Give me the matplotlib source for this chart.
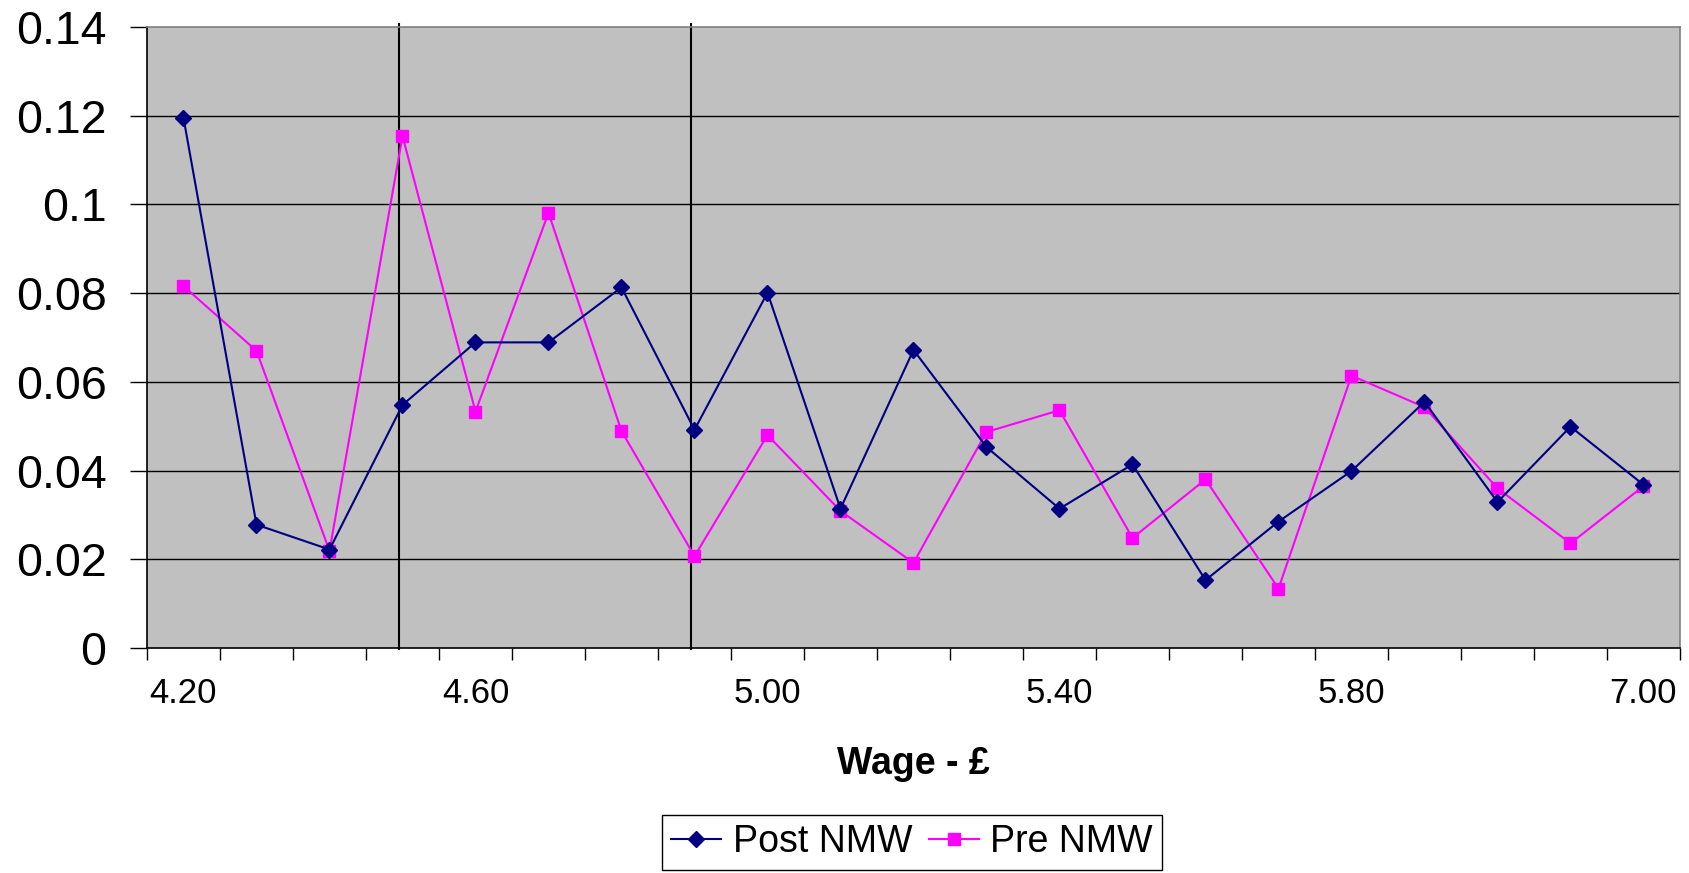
import matplotlib
matplotlib.use("Agg")
import matplotlib.pyplot as plt
import numpy as np

plt.rcParams['font.family'] = ['Liberation Sans', 'DejaVu Sans']

categories = ["4.20", "4.30", "4.40", "4.50", "4.60", "4.70", "4.80", "4.90", "5.00", "5.10",
              "5.20", "5.30", "5.40", "5.50", "5.60", "5.70", "5.80", "5.90", "6.00", "6.50", "7.00"]
post_nmw = [0.1195, 0.0278, 0.0222, 0.0548, 0.0689, 0.0689, 0.0813, 0.0492, 0.0801, 0.0314,
            0.0672, 0.0453, 0.0314, 0.0414, 0.0153, 0.0285, 0.0399, 0.0555, 0.0329, 0.0499, 0.0368]
pre_nmw = [0.0816, 0.0670, 0.0219, 0.1154, 0.0533, 0.0981, 0.0489, 0.0207, 0.0480, 0.0309,
           0.0192, 0.0487, 0.0536, 0.0248, 0.0380, 0.0134, 0.0614, 0.0543, 0.0360, 0.0236, 0.0365]
label_every = 4
vline_positions = [2.95, 6.95]
yticks = [0, 0.02, 0.04, 0.06, 0.08, 0.1, 0.12, 0.14]
ytick_labels = ["0", "0.02", "0.04", "0.06", "0.08", "0.1", "0.12", "0.14"]

fig = plt.figure(figsize=(16.9, 8.73), dpi=100)
ax = fig.add_axes([147/1690, 1-648/873, (1680-147)/1690, (648-27)/873])
ax.set_facecolor('#C0C0C0')

x = np.arange(len(categories))
ax.set_xlim(-0.5, len(categories) - 0.5)
ax.set_ylim(0, 0.14)

for y in yticks[1:-1]:
    ax.axhline(y, color='black', lw=1.0, zorder=1)

for xv in vline_positions:
    ax.plot([xv, xv], [-0.0003, 0.1407], color='black', lw=1.5, zorder=2, clip_on=False)

ax.plot(x, post_nmw, color='#000080', lw=1.5, marker='D', markersize=8,
        markerfacecolor='#000080', markeredgecolor='#000080', label='Post NMW', zorder=4)
ax.plot(x, pre_nmw, color='#FF00FF', lw=1.5, marker='s', markersize=8.5,
        markerfacecolor='#FF00FF', markeredgecolor='#FF00FF', label='Pre NMW', zorder=3)

ax.set_yticks(yticks)
ax.set_yticklabels(ytick_labels, fontsize=33.5)
ax.tick_params(axis='y', length=12.2, width=1, direction='out', pad=17, color='black')

ax.set_xticks(x[::label_every])
ax.set_xticklabels(categories[::label_every], fontsize=25)
ax.set_xticks(np.arange(-0.5, len(categories), 1.0), minor=True)
ax.tick_params(axis='x', which='major', length=0, pad=21)
ax.tick_params(axis='x', which='minor', length=8.6, width=1, direction='out', color='black')

ax.spines['left'].set_color('black')
ax.spines['bottom'].set_color('black')
ax.spines['top'].set_color('#808080')
ax.spines['right'].set_color('#808080')
for s in ax.spines.values():
    s.set_linewidth(1.2)

ax.set_xlabel("Wage - £", fontsize=27, fontweight='bold')
ax.xaxis.set_label_coords(0.5, (648-764)/621)
ax.xaxis.label.set_va('center')

leg = fig.legend(loc='center', bbox_to_anchor=(912/1690, 1-842.5/873), ncol=2,
                 fontsize=27, frameon=True, fancybox=False, framealpha=1,
                 edgecolor='black', handlelength=1.33, handletextpad=0.3,
                 columnspacing=0.45, borderpad=0.25)
leg.get_frame().set_linewidth(1.0)

fig.savefig("out.png", dpi=100)
